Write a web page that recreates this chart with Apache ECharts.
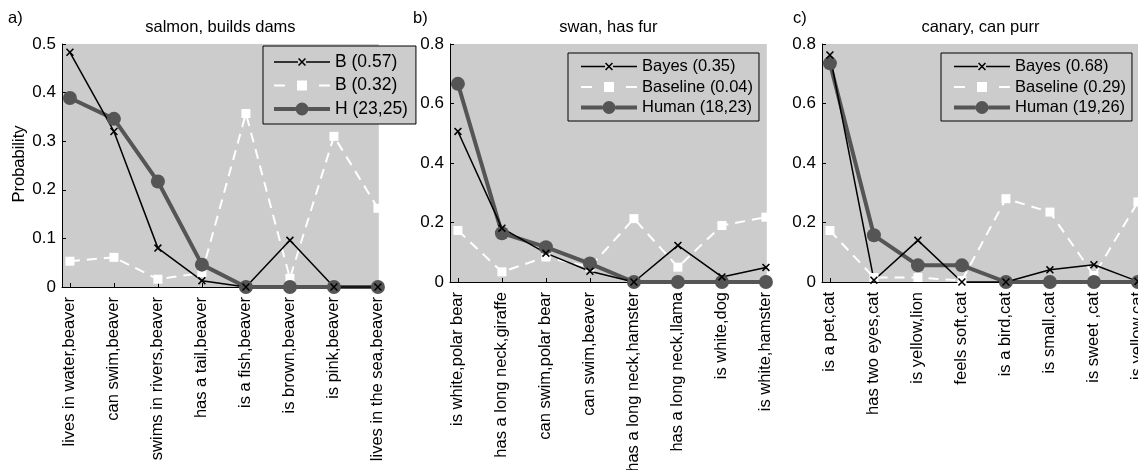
<!DOCTYPE html>
<html>
<head>
<meta charset="utf-8">
<script src="https://cdn.jsdelivr.net/npm/echarts@6/dist/echarts.min.js"></script>
<style>
  html, body { margin: 0; padding: 0; background: #fff; }
  #chart { width: 1138px; height: 470px; }
</style>
</head>
<body>
<div id="chart"></div>
<script>
// panel a) salmon, builds dams
const catsA = ['lives in water,beaver', 'can swim,beaver', 'swims in rivers,beaver', 'has a tail,beaver',
  'is a fish,beaver', 'is brown,beaver', 'is pink,beaver', 'lives in the sea,beaver'];
const bayesA = [0.483, 0.320, 0.080, 0.013, 0, 0.096, 0, 0];
const baseA = [0.053, 0.061, 0.016, 0.029, 0.357, 0.018, 0.310, 0.162];
const humanA = [0.389, 0.346, 0.217, 0.046, 0, 0, 0, 0];
const namesA = ['B (0.57)', 'B (0.32)', 'H (23,25)'];

// panel b) swan, has fur
const catsB = ['is white,polar bear', 'has a long neck,giraffe', 'can swim,polar bear', 'can swim,beaver',
  'has a long neck,hamster', 'has a long neck,llama', 'is white,dog', 'is white,hamster'];
const bayesB = [0.506, 0.181, 0.097, 0.036, 0, 0.123, 0.017, 0.049];
const baseB = [0.173, 0.034, 0.084, 0.050, 0.213, 0.050, 0.190, 0.218];
const humanB = [0.666, 0.164, 0.117, 0.062, 0, 0, 0, 0];
const namesB = ['Bayes (0.35)', 'Baseline (0.04)', 'Human (18,23)'];

// panel c) canary, can purr
const catsC = ['is a pet,cat', 'has two eyes,cat', 'is yellow,lion', 'feels soft,cat',
  'is a bird,cat', 'is small,cat', 'is sweet ,cat', 'is yellow,cat'];
const bayesC = [0.763, 0.006, 0.140, 0, 0, 0.041, 0.058, 0.002];
const baseC = [0.173, 0.015, 0.015, 0.005, 0.280, 0.235, 0.022, 0.269];
const humanC = [0.735, 0.157, 0.056, 0.056, 0, 0, 0, 0];
const namesC = ['Bayes (0.68)', 'Baseline (0.29)', 'Human (19,26)'];

const titles = ['salmon, builds dams', 'swan, has fur', 'canary, can purr'];
const letters = ['a)', 'b)', 'c)'];
const tickPos = [1, 2, 3, 4, 5, 6, 7, 8];

const FONT = '"Liberation Sans", Arial, Helvetica, sans-serif';
const GRAY = '#cccccc';
const HUMAN = '#555555';

// x marker and legend icons (filled paths)
const xMark = 'path://M0,1.1L1.1,0L8,6.9L6.9,8Z M1.1,8L0,6.9L6.9,0L8,1.1Z';
const iconBayes = 'path://M0,6.25L24,6.25L24,7.75L0,7.75Z M32,6.25L56,6.25L56,7.75L32,7.75Z ' +
  'M24,4.1L25.1,3L32,9.9L30.9,11Z M25.1,11L24,9.9L30.9,3L32,4.1Z';
const iconBase = 'path://M0,6L11,6L11,8L0,8Z M23,2L33,2L33,12L23,12Z M45,6L56,6L56,8L45,8Z';
const iconHuman = 'path://M0,5L21.6,5L21.6,9L0,9Z M34.4,5L56,5L56,9L34.4,9Z ' +
  'M21.5,7A6.5,6.5,0,1,1,34.5,7A6.5,6.5,0,1,1,21.5,7Z';

const panels = [
  { left: 62, height: 243, yMax: 0.5, yStep: 0.1, cats: catsA, bayes: bayesA, base: baseA, human: humanA, names: namesA,
    lg: { left: 263, top: 46, fontSize: 17.5, itemHeight: 16, itemGap: 5.5, padding: [7, 8, 6, 11] } },
  { left: 450, height: 238, yMax: 0.8, yStep: 0.2, cats: catsB, bayes: bayesB, base: baseB, human: humanB, names: namesB,
    lg: { left: 568, top: 53, fontSize: 16.5, itemHeight: 15, itemGap: 3.5, padding: [5, 6, 5, 13] } },
  { left: 822, height: 238, yMax: 0.8, yStep: 0.2, cats: catsC, bayes: bayesC, base: baseC, human: humanC, names: namesC,
    lg: { left: 941, top: 53, fontSize: 16.5, itemHeight: 15, itemGap: 3.5, padding: [5, 6, 5, 13] } }
];

const grid = [], xAxis = [], yAxis = [], series = [], legend = [], graphic = [];

panels.forEach((p, i) => {
  grid.push({ left: p.left, top: 44, width: 316.8, height: p.height, show: true,
    containLabel: false, outerBoundsMode: 'none',
    backgroundColor: GRAY, borderWidth: 0 });
  xAxis.push({
    type: 'value', gridIndex: i, min: 0.82, max: 8.02,
    splitLine: { show: false },
    axisLine: { show: true, lineStyle: { color: '#000', width: 1 } },
    axisTick: { show: true, inside: true, length: 4, customValues: tickPos, lineStyle: { color: '#000' } },
    axisLabel: {
      customValues: tickPos, rotate: 90, margin: 10, color: '#000', fontSize: 16.5, fontFamily: FONT,
      formatter: (v) => p.cats[Math.round(v) - 1] || ''
    }
  });
  yAxis.push({
    type: 'value', gridIndex: i, min: 0, max: p.yMax, interval: p.yStep,
    splitLine: { show: false },
    axisLine: { show: true, lineStyle: { color: '#000', width: 1 } },
    axisTick: { show: true, inside: true, length: 4, lineStyle: { color: '#000' } },
    axisLabel: { margin: 6, color: '#000', fontSize: 17, fontFamily: FONT }
  });
  const pts = (arr) => arr.map((v, k) => [k + 1, v]);
  series.push(
    { name: p.names[1], type: 'line', xAxisIndex: i, yAxisIndex: i, data: pts(p.base), clip: false,
      symbol: 'rect', symbolSize: 9, itemStyle: { color: '#fff' },
      lineStyle: { color: '#fff', width: 2, type: [10, 7] } },
    { name: p.names[2], type: 'line', xAxisIndex: i, yAxisIndex: i, data: pts(p.human), clip: false,
      symbol: 'circle', symbolSize: 14, itemStyle: { color: HUMAN },
      lineStyle: { color: HUMAN, width: 4 } },
    { name: p.names[0], type: 'line', xAxisIndex: i, yAxisIndex: i, data: pts(p.bayes), clip: false,
      symbol: xMark, symbolSize: 8, itemStyle: { color: '#000' },
      lineStyle: { color: '#000', width: 1.5 } }
  );
  legend.push({
    orient: 'vertical', left: p.lg.left, top: p.lg.top, padding: p.lg.padding,
    itemWidth: 56, itemHeight: p.lg.itemHeight, itemGap: p.lg.itemGap,
    backgroundColor: GRAY, borderColor: '#000', borderWidth: 1,
    selectedMode: false, itemStyle: { borderWidth: 0 },
    textStyle: { color: '#000', fontSize: p.lg.fontSize, fontFamily: FONT },
    data: [
      { name: p.names[0], icon: iconBayes },
      { name: p.names[1], icon: iconBase },
      { name: p.names[2], icon: iconHuman }
    ]
  });
  graphic.push({
    type: 'text', x: p.left + 158.4, y: 27,
    style: { text: titles[i], fill: '#000', font: '16.5px ' + FONT, textAlign: 'center', textVerticalAlign: 'middle' }
  });
});

graphic.push(
  { type: 'text', x: 8, y: 18, style: { text: letters[0], fill: '#000', font: '16.5px ' + FONT, textVerticalAlign: 'middle' } },
  { type: 'text', x: 413, y: 18, style: { text: letters[1], fill: '#000', font: '16.5px ' + FONT, textVerticalAlign: 'middle' } },
  { type: 'text', x: 793, y: 18, style: { text: letters[2], fill: '#000', font: '16.5px ' + FONT, textVerticalAlign: 'middle' } },
  { type: 'text', x: 19, y: 164, rotation: Math.PI / 2,
    style: { text: 'Probability', fill: '#000', font: '16.5px ' + FONT, textAlign: 'center', textVerticalAlign: 'middle' } }
);

const chart = echarts.init(document.getElementById('chart'));
chart.setOption({
  animation: false,
  backgroundColor: '#fff',
  grid, xAxis, yAxis, series, legend, graphic
});
</script>
</body>
</html>
